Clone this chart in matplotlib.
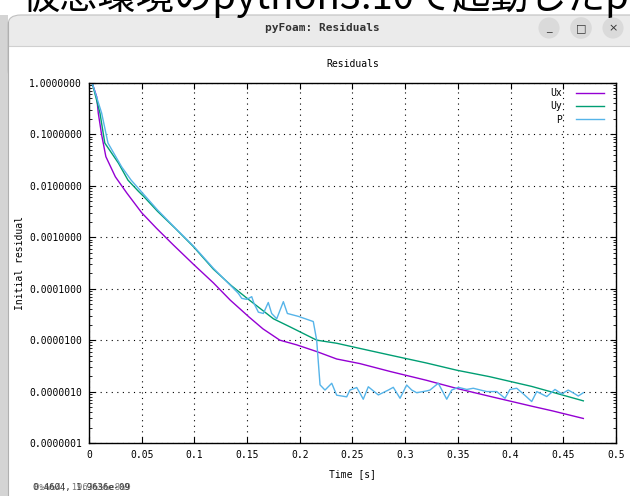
import numpy as np
import matplotlib
matplotlib.use("Agg")
import matplotlib.pyplot as plt
from matplotlib.patches import Rectangle, FancyBboxPatch
from matplotlib.ticker import LogLocator, FixedLocator, NullFormatter

# ---------------- data ----------------
ux_t = [0.003, 0.0073, 0.0088, 0.012, 0.016, 0.025, 0.036, 0.050, 0.064, 0.080,
        0.099, 0.118, 0.134, 0.152, 0.165, 0.181, 0.197, 0.216, 0.235, 0.257,
        0.286, 0.320, 0.349, 0.380, 0.420, 0.440, 0.469]
ux_v = [1.0, 0.54, 0.26, 0.098, 0.037, 0.015, 0.0072, 0.0030, 0.0015, 7.1e-4,
        3.0e-4, 1.3e-4, 6.0e-5, 2.8e-5, 1.66e-5, 1.0e-5, 8.1e-6, 6.0e-6, 4.3e-6, 3.5e-6,
        2.45e-6, 1.66e-6, 1.15e-6, 8.1e-7, 5.2e-7, 4.2e-7, 3.0e-7]

uy_t = [0.003, 0.0104, 0.015, 0.028, 0.037, 0.047, 0.052, 0.065, 0.082, 0.099,
        0.118, 0.135, 0.150, 0.175, 0.191, 0.216, 0.235, 0.257, 0.286, 0.320,
        0.349, 0.380, 0.420, 0.469]
uy_v = [1.0, 0.26, 0.068, 0.0275, 0.0129, 0.0078, 0.0062, 0.0032, 0.00148, 6.6e-4,
        2.4e-4, 1.15e-4, 6.5e-5, 2.6e-5, 1.8e-5, 1.0e-5, 8.7e-6, 6.9e-6, 5.1e-6, 3.6e-6,
        2.6e-6, 1.95e-6, 1.26e-6, 6.6e-7]

p_t = [0.003, 0.012, 0.018, 0.031, 0.040, 0.052, 0.065, 0.082, 0.099, 0.118,
       0.137, 0.1417, 0.1449, 0.1496, 0.1544, 0.1565, 0.1607, 0.1654, 0.1701, 0.1733,
       0.1781, 0.1844, 0.1882, 0.1986, 0.2128, 0.2160, 0.2192, 0.2239, 0.2303, 0.2350,
       0.2445, 0.2476, 0.2540, 0.2571, 0.2602, 0.2650, 0.2745, 0.2840, 0.2887, 0.2951,
       0.3014, 0.3062, 0.3109, 0.3204, 0.3235, 0.3314, 0.3394, 0.3441, 0.3504, 0.3584,
       0.3646, 0.3773, 0.3868, 0.3947, 0.3994, 0.4058, 0.4121, 0.4200, 0.4248, 0.4343,
       0.4421, 0.4485, 0.4547, 0.4611, 0.4642, 0.4690]
p_v = [1.0, 0.26, 0.068, 0.0234, 0.0129, 0.0068, 0.0034, 0.00150, 6.8e-4, 2.5e-4,
       1.02e-4, 8.1e-5, 6.5e-5, 6.2e-5, 7.0e-5, 5.2e-5, 3.5e-5, 3.3e-5, 5.4e-5, 3.3e-5,
       2.6e-5, 5.6e-5, 3.3e-5, 2.9e-5, 2.3e-5, 1.0e-5, 1.35e-6, 1.07e-6, 1.45e-6, 8.5e-7,
       7.9e-7, 1.07e-6, 1.2e-6, 9.3e-7, 7.1e-7, 1.24e-6, 8.6e-7, 1.07e-6, 1.21e-6, 7.4e-7,
       1.34e-6, 1.07e-6, 9.5e-7, 1.03e-6, 1.07e-6, 1.45e-6, 7.1e-7, 1.07e-6, 1.21e-6, 1.1e-6,
       1.16e-6, 1.0e-6, 1.0e-6, 7.4e-7, 1.1e-6, 1.16e-6, 9.0e-7, 6.4e-7, 1.0e-6, 8.0e-7,
       1.1e-6, 9.0e-7, 1.07e-6, 9.0e-7, 8.2e-7, 9.5e-7]

series_names = ["Ux", "Uy", "P"]
series_colors = ["#9400D3", "#009E73", "#56B4E9"]

x_ticks = [0, 0.05, 0.1, 0.15, 0.2, 0.25, 0.3, 0.35, 0.4, 0.45, 0.5]
x_tick_labels = ["0", "0.05", "0.1", "0.15", "0.2", "0.25", "0.3", "0.35", "0.4", "0.45", "0.5"]
y_ticks = [1e-7, 1e-6, 1e-5, 1e-4, 1e-3, 1e-2, 1e-1, 1.0]
y_tick_labels = ["0.0000001", "0.0000010", "0.0000100", "0.0001000",
                 "0.0010000", "0.0100000", "0.1000000", "1.0000000"]

# ---------------- figure ----------------
W, H = 630, 496
fig = plt.figure(figsize=(W / 100, H / 100), dpi=100)
fig.patch.set_facecolor("white")

def fx(px):
    return px / W

def fy(py):
    return 1 - py / H

mono = "DejaVu Sans Mono"

# Window decorations (screenshot framing)
fig.patches.append(Rectangle((fx(0), fy(496)), fx(8), fy(15) - fy(496),
                             transform=fig.transFigure, facecolor="#d4d4d4",
                             edgecolor="none", zorder=0))
fig.patches.append(FancyBboxPatch((fx(8), fy(80)), fx(700), fy(15) - fy(80),
                                  boxstyle="round,pad=0,rounding_size=0.02",
                                  transform=fig.transFigure, facecolor="#ebebeb",
                                  edgecolor="#c0c0c0", linewidth=0.8, zorder=0))
fig.patches.append(Rectangle((fx(8), fy(496)), fx(640), fy(46) - fy(496),
                             transform=fig.transFigure, facecolor="white",
                             edgecolor="none", zorder=0.5))
fig.lines.append(plt.Line2D([fx(8), fx(630)], [fy(46), fy(46)],
                            transform=fig.transFigure, color="#d0d0d0", lw=0.8, zorder=1))
fig.lines.append(plt.Line2D([fx(8), fx(8)], [fy(22), fy(496)],
                            transform=fig.transFigure, color="#b0b0b0", lw=0.8, zorder=1))

fig.text(fx(21), fy(9.5), "仮想環境のpython3.10で起動したp", fontsize=27.5,
         family=["Noto Sans CJK JP", "DejaVu Sans"], va="baseline", ha="left", color="black")
fig.text(fx(322), fy(28), "pyFoam: Residuals", fontsize=8, family=mono, weight="bold",
         ha="center", va="center", color="#333333")
for bx, glyph in zip([549, 581, 613], ["_", "□", "×"]):
    fig.text(fx(bx), fy(28), glyph, fontsize=8, ha="center", va="center", color="#333333",
             family=["DejaVu Sans"],
             bbox=dict(boxstyle="circle,pad=0.5", facecolor="#dadada", edgecolor="none"))

# ---------------- axes ----------------
ax = fig.add_axes([fx(89), fy(443), fx(616) - fx(89), fy(83) - fy(443)])
ax.set_zorder(2)
ax.set_facecolor("none")

for t, v, name, c in zip([ux_t, uy_t, p_t], [ux_v, uy_v, p_v], series_names, series_colors):
    ax.plot(t, v, color=c, lw=1.0, label=name)

ax.set_yscale("log")
ax.set_xlim(0, 0.5)
ax.set_ylim(1e-7, 1.0)

ax.xaxis.set_major_locator(FixedLocator(x_ticks))
ax.set_xticklabels(x_tick_labels)
ax.yaxis.set_major_locator(FixedLocator(y_ticks))
ax.set_yticklabels(y_tick_labels)
ax.yaxis.set_minor_locator(LogLocator(base=10, subs=np.arange(2, 10)))
ax.yaxis.set_minor_formatter(NullFormatter())

ax.tick_params(which="major", direction="in", length=4, width=0.8, top=True, right=True,
               labelsize=7, pad=5, colors="black")
ax.tick_params(which="minor", direction="in", length=2, width=0.6, top=False, right=True, left=True)
for lab in ax.get_xticklabels() + ax.get_yticklabels():
    lab.set_family(mono)

for s in ax.spines.values():
    s.set_linewidth(1.0)
    s.set_color("black")

ax.grid(True, which="major", color="black", linestyle=(0, (1, 4)), linewidth=0.8)

ax.set_xlabel("Time [s]", fontsize=7, family=mono)
ax.xaxis.set_label_coords(0.5, -(469 - 443) / 360)
ax.set_ylabel("Initial residual", fontsize=7, family=mono)
ax.yaxis.set_label_coords(-(89 - 25) / 527, 0.5)
ax.text(0.5, 1 + (83 - 64) / 360, "Residuals", transform=ax.transAxes,
        ha="center", va="center", fontsize=7, family=mono)

leg = ax.legend(loc="upper right", bbox_to_anchor=(1 - 12 / 527, 1 - 5 / 360),
                borderaxespad=0, borderpad=0, frameon=False, markerfirst=False,
                handlelength=2.9, handletextpad=1.4, labelspacing=0.35,
                prop={"family": mono, "size": 7})

# status text bottom-left (overlapping coordinates readout)
fig.text(fx(33), fy(490), "0.4604, 1.9636e-09", fontsize=6.5, family=mono,
         va="baseline", ha="left", color="#333333")
fig.text(fx(34), fy(490), "0%%%4, 1963%%%e8%9", fontsize=6.5, family=mono,
         va="baseline", ha="left", color="#444444", alpha=0.7)

fig.savefig("out.png", dpi=100)
